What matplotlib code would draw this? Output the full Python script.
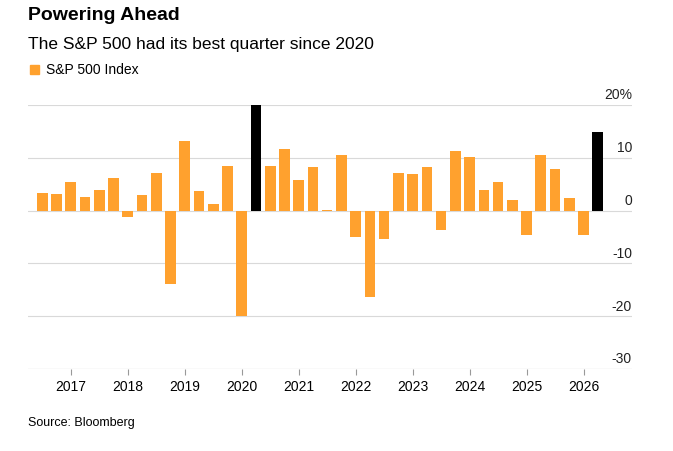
import matplotlib
matplotlib.use("Agg")
import matplotlib.pyplot as plt
import numpy as np

quarters = ["2016Q3","2016Q4"] + [f"{y}Q{q}" for y in range(2017,2026) for q in range(1,5)] + ["2026Q1","2026Q2"]
values = [3.3,3.2,5.4,2.6,3.9,6.1,-1.2,2.9,7.1,-13.9,13.1,3.8,1.2,8.5,-20.0,20.0,8.5,11.7,5.8,8.2,
          0.2,10.6,-5.0,-16.4,-5.3,7.1,7.0,8.3,-3.6,11.2,10.2,3.9,5.5,2.1,-4.6,10.6,7.8,2.4,-4.6,14.8]
highlight = ["2020Q2","2026Q2"]
years = list(range(2017,2027))
yticks = [20,10,0,-10,-20,-30]

plt.rcParams['font.family'] = ['Liberation Sans','DejaVu Sans']
fig = plt.figure(figsize=(6.73,4.52), dpi=100)
ax = fig.add_axes([28/673, 1-370/452, (632-28)/673, (370-106)/452])
x = np.arange(len(values))
cols = ['black' if q in highlight else '#FFA12E' for q in quarters]
ax.bar(x, values, width=0.75, color=cols, zorder=3)
ax.set_xlim(-1, len(values)+1.4)
ax.set_ylim(-30, 20)
for t in yticks:
    ax.axhline(t, color='#d9d9d9' if t!=-30 else '#999999', lw=0.8, zorder=1)
    ax.text(1.0, t+0.7, f"{t}%" if t==20 else str(t), transform=ax.get_yaxis_transform(),
            ha='right', va='bottom', fontsize=10, color='#222')
ax.set_yticks([])
ax.set_xticks([quarters.index(f"{y}Q1") for y in years])
ax.set_xticklabels([str(y) for y in years], fontsize=10)
ax.tick_params(axis='x', length=4, color='#999999')
for s in ax.spines.values(): s.set_visible(False)
fig.text(28/673, 1-16/452, "Powering Ahead", fontsize=14, weight='bold', va='center')
fig.text(28/673, 1-44/452, "The S&P 500 had its best quarter since 2020", fontsize=12.5, va='center')
fig.patches.append(plt.Rectangle((30/673, 1-75/452), 9/673, 9/452, color='#FFA12E', transform=fig.transFigure))
fig.text(46/673, 1-70/452, "S&P 500 Index", fontsize=10, va='center')
fig.text(28/673, 1-423/452, "Source: Bloomberg", fontsize=9, va='center')
fig.savefig("out.png", dpi=100, facecolor='white')
